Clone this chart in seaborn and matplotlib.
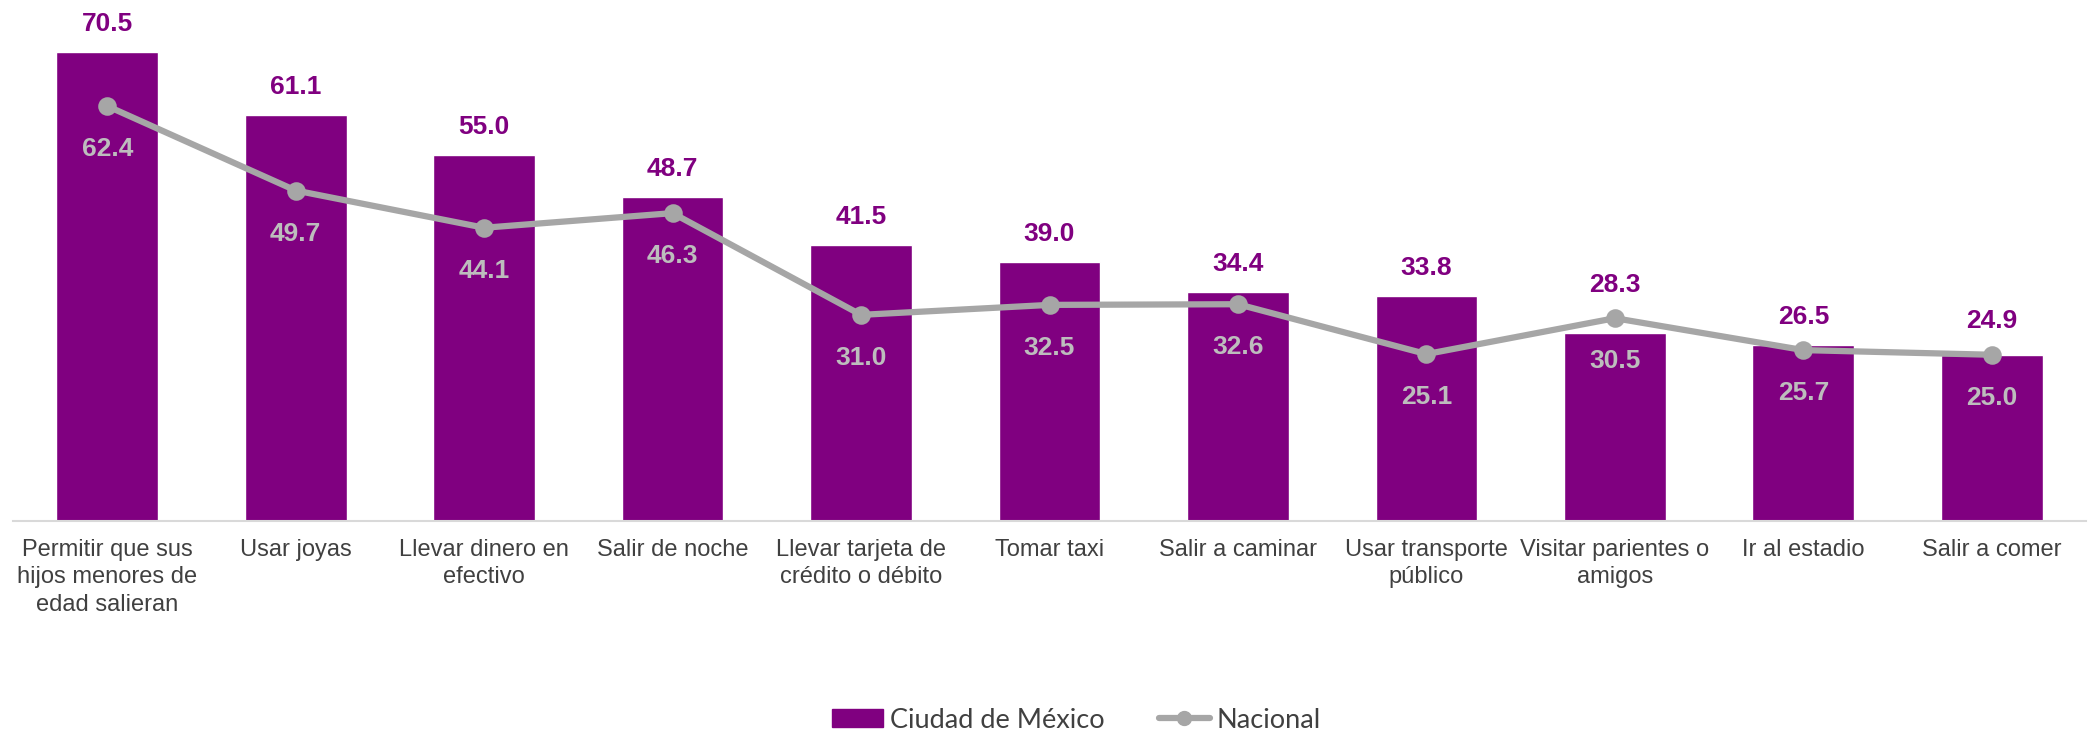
import matplotlib
matplotlib.use("Agg")
import matplotlib.pyplot as plt
import seaborn as sns
import pandas as pd
from matplotlib.patches import Patch
from matplotlib.lines import Line2D

categories = ["Permitir que sus hijos menores de edad salieran", "Usar joyas",
              "Llevar dinero en efectivo", "Salir de noche",
              "Llevar tarjeta de crédito o débito", "Tomar taxi", "Salir a caminar",
              "Usar transporte público", "Visitar parientes o amigos",
              "Ir al estadio", "Salir a comer"]
tick_labels = ["Permitir que sus\nhijos menores de\nedad salieran", "Usar joyas",
               "Llevar dinero en\nefectivo", "Salir de noche",
               "Llevar tarjeta de\ncrédito o débito", "Tomar taxi", "Salir a caminar",
               "Usar transporte\npúblico", "Visitar parientes o\namigos",
               "Ir al estadio", "Salir a comer"]
cdmx = [70.5, 61.1, 55.0, 48.7, 41.5, 39.0, 34.4, 33.8, 28.3, 26.5, 24.9]
nacional = [62.4, 49.7, 44.1, 46.3, 31.0, 32.5, 32.6, 25.1, 30.5, 25.7, 25.0]
series_names = ["Ciudad de México", "Nacional"]

PURPLE = "#800080"
GRAY = "#A6A6A6"
LABEL_GRAY = "#BDBDBD"
TEXT = "#404040"

sns.set_theme(style="white")
plt.rcParams["font.family"] = ["Liberation Sans", "DejaVu Sans"]

df = pd.DataFrame({"cat": categories, "cdmx": cdmx, "nac": nacional})

fig = plt.figure(figsize=(20.94, 7.33), dpi=100)
ax = fig.add_axes([13 / 2094, (733 - 521) / 733, 2073 / 2094, 521 / 733])

sns.barplot(data=df, x="cat", y="cdmx", color=PURPLE, saturation=1, width=0.54,
            ax=ax, zorder=2)
sns.pointplot(data=df, x="cat", y="nac", color=GRAY, markers="o", linestyles="-",
              ax=ax, markersize=10, linewidth=4.5, zorder=3)

ax.set_xlim(-0.5, len(categories) - 0.5)
ax.set_ylim(0, 78.35)
ax.set_xlabel("")
ax.set_ylabel("")
ax.set_yticks([])
for s in ["top", "right", "left"]:
    ax.spines[s].set_visible(False)
ax.spines["bottom"].set_color("#D9D9D9")
ax.spines["bottom"].set_linewidth(1.5)

ax.set_xticks(range(len(categories)))
ax.set_xticklabels(tick_labels, fontsize=17, color=TEXT, linespacing=1.32)
ax.tick_params(axis="x", which="major", length=0, pad=13)
ax.set_xticks([i - 0.5 for i in range(len(categories) + 1)], minor=True)
ax.tick_params(axis="x", which="minor", length=9, width=1.2, color="#D9D9D9")

for i, (b, n) in enumerate(zip(cdmx, nacional)):
    top = max(b, n)
    off = 20 if b >= n else 24
    ax.annotate(f"{b:.1f}", (i, top), xytext=(0, off), textcoords="offset points",
                ha="center", va="center", fontsize=19, fontweight="bold",
                color=PURPLE, zorder=4)
    ax.annotate(f"{n:.1f}", (i, n), xytext=(0, -31), textcoords="offset points",
                ha="center", va="center", fontsize=19, fontweight="bold",
                color=LABEL_GRAY, zorder=4)

handles = [Patch(facecolor=PURPLE, edgecolor=PURPLE),
           Line2D([0], [0], color=GRAY, lw=4.5, marker="o", markersize=10)]
fig.legend(handles, series_names, loc="center", bbox_to_anchor=(0.514, 0.0175),
           ncol=2, frameon=False, handlelength=1.9, handleheight=0.65,
           handletextpad=0.25, columnspacing=2.0,
           prop={"family": ["Lato", "DejaVu Sans"], "size": 19.5},
           labelcolor=TEXT)

fig.savefig("out.png", dpi=100)
